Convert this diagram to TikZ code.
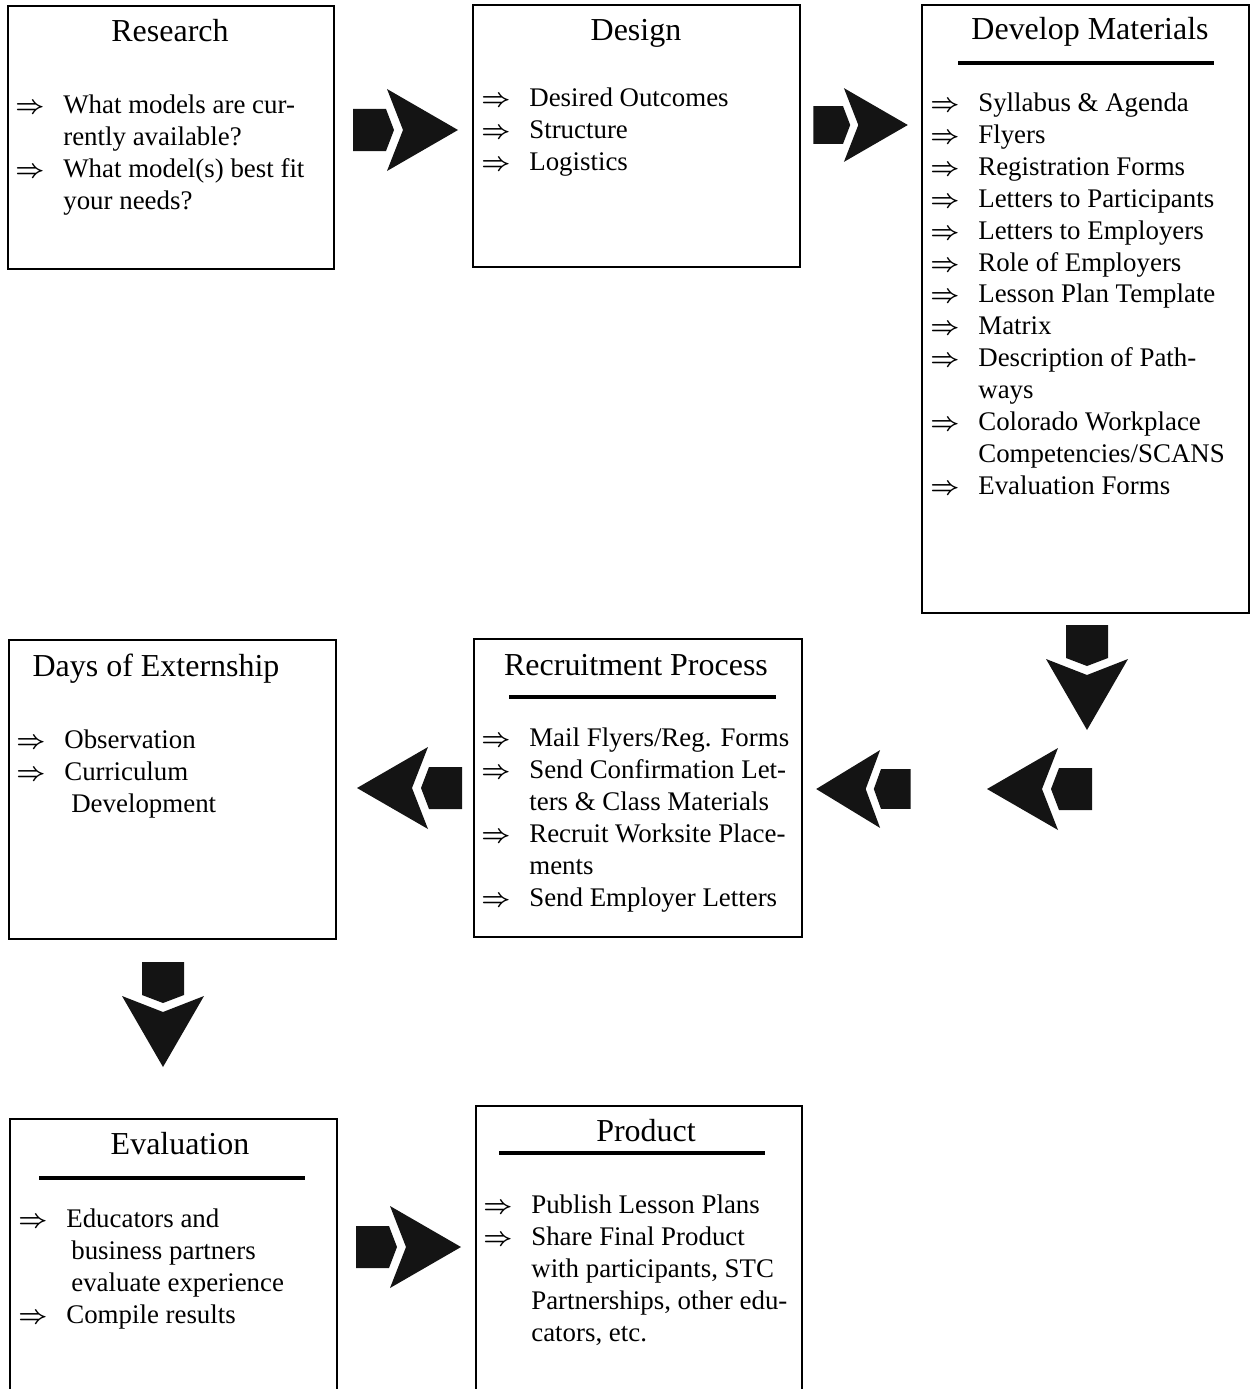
\documentclass[tikz,border=0pt]{standalone}
\usepackage{fontspec}
\usepackage{amsmath}
\setmainfont{Liberation Serif}
\usetikzlibrary{fit}
\definecolor{chevfill}{HTML}{141414}
\newcommand{\itm}{\strut\makebox[0.96cm][l]{$\boldsymbol{\Rightarrow}$}}
\newcommand{\cont}{\strut\hspace*{0.96cm}}
\tikzset{
  chevron/.pic={
    % block tail and notched head
    \fill[chevfill] (-53,-21) -- (-20,-21) -- (-12,0) -- (-20,21) -- (-53,21) -- cycle;
    \fill[chevfill] (-19,-41) -- (52,0) -- (-19,41) -- (-3,0) -- cycle;
  }
}
\begin{document}
\begin{tikzpicture}[x=0.02cm, y=-0.02cm,
    box/.style={draw, line width=0.8pt, inner sep=0pt},
    title/.style={anchor=base, font=\fontsize{18.2}{21}\selectfont},
    list/.style={anchor=north west, inner sep=0pt, align=left,
      font=\fontsize{15.3}{18.14}\selectfont},
    rule/.style={line width=1.8pt}]
  \useasboundingbox (0,0) rectangle (1251,1389);
  \clip (0,0) rectangle (1251,1389);
  % boxes
  \node[box, fit={(8,6) (334,269)}] (research) {};
  \node[box, fit={(473,5) (800,267)}] (design) {};
  \node[box, fit={(922,5) (1249,613)}] (develop) {};
  \node[box, fit={(9,640) (336,939)}] (days) {};
  \node[box, fit={(474,639) (802,937)}] (recruit) {};
  \node[box, fit={(10,1119) (337,1410)}] (evaluation) {};
  \node[box, fit={(476,1106) (802,1410)}] (product) {};
  % titles
  \node[title] (researchtitle) at (170,42) {Research};
  \node[title] (designtitle) at (636,41) {Design};
  \node[title] (developtitle) at (1090,40) {Develop Materials};
  \node[title] (daystitle) at (156,676) {Days of Externship};
  \node[title] (recruittitle) at (636,675) {Recruitment Process};
  \node[title] (evaluationtitle) at (180,1154) {Evaluation};
  \node[title] (producttitle) at (646,1141) {Product};
  % rules under titles
  \draw[rule] (958,63) -- (1214,63);
  \draw[rule] (509,697) -- (776,697);
  \draw[rule] (39,1178) -- (305,1178);
  \draw[rule] (499,1153) -- (765,1153);
  % lists
  \node[list] (researchlist) at (15,91) {\itm What models are cur-\\
    \cont rently available?\\
    \itm What model(s) best fit\\
    \cont your needs?};
  \node[list] (designlist) at (481,84) {\itm Desired Outcomes\\
    \itm Structure\\
    \itm Logistics};
  \node[list] (developlist) at (930,89) {\itm Syllabus \& Agenda\\
    \itm Flyers\\
    \itm Registration Forms\\
    \itm Letters to Participants\\
    \itm Letters to Employers\\
    \itm Role of Employers\\
    \itm Lesson Plan Template\\
    \itm Matrix\\
    \itm Description of Path-\\
    \cont ways\\
    \itm Colorado Workplace\\
    \cont Competencies/SCANS\\
    \itm Evaluation Forms};
  \node[list] (dayslist) at (16,726) {\itm Observation\\
    \itm Curriculum\\
    \cont\hspace*{0.14cm}Development};
  \node[list] (recruitlist) at (481,724) {\itm Mail Flyers/Reg. Forms\\
    \itm Send Confirmation Let-\\
    \cont ters \& Class Materials\\
    \itm Recruit Worksite Place-\\
    \cont ments\\
    \itm Send Employer Letters};
  \node[list] (evaluationlist) at (18,1205) {\itm Educators and\\
    \cont\hspace*{0.1cm}business partners\\
    \cont\hspace*{0.1cm}evaluate experience\\
    \itm Compile results};
  \node[list] (productlist) at (483,1191) {\itm Publish Lesson Plans\\
    \itm Share Final Product\\
    \cont with participants, STC\\
    \cont Partnerships, other edu-\\
    \cont cators, etc.};
  % block arrows between the steps
  \pic at (406,130) {chevron};
  \pic[scale=0.9] at (861,125) {chevron};
  \pic[rotate=-90] at (1087,678) {chevron};
  \pic[xscale=-1] at (1039,789) {chevron};
  \pic[xscale=-0.9, yscale=0.95] at (863,789) {chevron};
  \pic[xscale=-1] at (409,788) {chevron};
  \pic[rotate=-90] at (163,1015) {chevron};
  \pic at (409,1247) {chevron};
\end{tikzpicture}
\end{document}
